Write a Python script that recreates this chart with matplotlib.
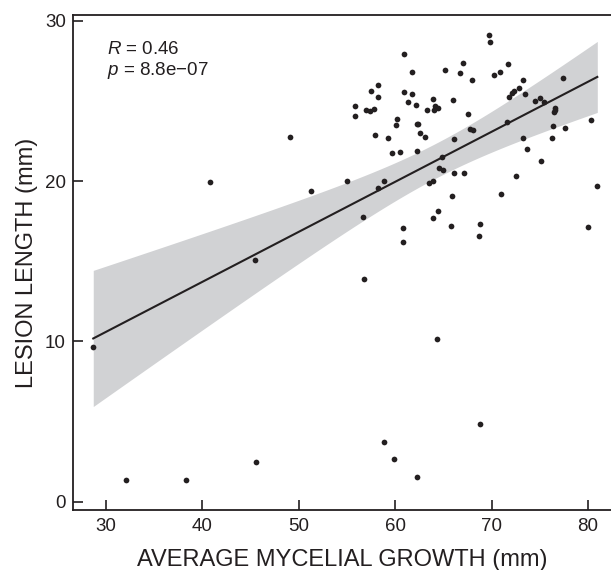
import numpy as np
from matplotlib import pyplot as plt

# average mycelial growth (mm) vs lesion length (mm)
growth = [28.71, 32.15, 38.33, 40.80, 45.48, 45.56, 49.08, 51.25, 54.98, 55.85,
          55.85, 56.64, 56.75, 56.95, 57.40, 57.47, 57.85, 57.95, 58.26, 58.26,
          58.26, 58.86, 58.85, 59.27, 59.68, 59.85, 60.06, 60.23, 60.54, 60.79,
          60.79, 60.96, 60.96, 61.37, 61.75, 61.75, 62.14, 62.27, 62.23, 62.41,
          62.27, 62.58, 63.07, 63.28, 63.49, 63.90, 63.96, 63.96, 64.17, 64.42,
          64.07, 64.38, 64.48, 64.83, 64.58, 65.00, 65.18, 65.80, 65.90, 65.97,
          66.08, 66.08, 66.76, 67.07, 67.15, 67.53, 67.80, 68.00, 68.05, 68.80,
          68.70, 68.76, 69.77, 69.87, 70.29, 70.88, 70.98, 71.57, 71.68, 71.78,
          72.15, 72.32, 72.57, 72.81, 73.29, 73.29, 73.50, 73.68, 74.47, 75.02,
          75.16, 75.47, 76.30, 76.40, 76.51, 76.55, 76.58, 77.41, 77.62, 79.97,
          80.31, 80.96]
lesion = [9.67, 1.32, 1.32, 19.95, 15.06, 2.48, 22.77, 19.40, 20.00, 24.70,
          24.04, 17.78, 13.91, 24.44, 24.38, 25.62, 24.52, 22.88, 26.01, 25.27,
          19.59, 3.71, 20.00, 22.67, 21.77, 2.65, 23.48, 23.85, 21.83, 17.05,
          16.20, 27.91, 25.58, 24.95, 26.81, 25.45, 24.75, 23.56, 1.53, 23.56,
          21.88, 22.98, 22.77, 24.45, 19.90, 17.72, 25.10, 20.00, 24.68, 24.54,
          24.44, 10.17, 18.16, 21.52, 20.84, 20.69, 26.91, 17.22, 19.07, 25.06,
          22.61, 20.52, 26.76, 27.37, 20.52, 24.17, 23.23, 26.29, 23.17, 17.30,
          16.56, 4.82, 29.11, 28.70, 26.62, 26.79, 19.22, 23.71, 27.29, 25.23,
          25.52, 25.60, 20.34, 25.83, 26.31, 22.69, 25.41, 22.02, 24.98, 25.17,
          21.23, 24.94, 22.71, 23.44, 24.33, 24.45, 24.58, 26.45, 23.31, 17.16,
          23.81, 19.67]

x_ticks = [30, 40, 50, 60, 70, 80]
y_ticks = [0, 10, 20, 30]
stats_text = ['$R$ = 0.46', '$p$ = 8.8e\u221207']

ink = '#231f20'
plt.rcParams['font.family'] = ['Liberation Sans', 'DejaVu Sans']
plt.rcParams['mathtext.fontset'] = 'custom'
plt.rcParams['mathtext.it'] = 'Liberation Sans:italic'
plt.rcParams['mathtext.rm'] = 'Liberation Sans'

x = np.array(growth)
y = np.array(lesion)
n = len(x)

# linear fit with 95% confidence band
b, a = np.polyfit(x, y, 1)
xs = np.linspace(x.min(), x.max(), 200)
ys = a + b * xs
resid = y - (a + b * x)
s = np.sqrt(np.sum(resid ** 2) / (n - 2))
sxx = np.sum((x - x.mean()) ** 2)
se = s * np.sqrt(1 / n + (xs - x.mean()) ** 2 / sxx)
t = 1.983

fig = plt.figure(figsize=(6.11, 5.70), dpi=100)
ax = fig.add_axes([0.119, 0.1053, 0.881, 0.8684])

ax.fill_between(xs, ys - t * se, ys + t * se, color='#d1d2d4', lw=0, zorder=1)
ax.plot(xs, ys, color=ink, lw=1.5, zorder=2)
ax.scatter(x, y, s=17, color=ink, lw=0, zorder=3)

ax.text(0.064, 0.931, stats_text[0], transform=ax.transAxes, fontsize=13.5,
        color=ink, va='center')
ax.text(0.064, 0.887, stats_text[1], transform=ax.transAxes, fontsize=13.5,
        color=ink, va='center')

ax.set_xlim(26.58, 82.38)
ax.set_ylim(-0.52, 30.36)
ax.set_xticks(x_ticks)
ax.set_yticks(y_ticks)
ax.tick_params(direction='in', length=7, width=1.2, colors=ink, labelsize=13.5, pad=5)
ax.tick_params(axis='x', pad=6)

for side in ['left', 'bottom', 'top']:
    ax.spines[side].set_color(ink)
    ax.spines[side].set_linewidth(1.3)
ax.spines['right'].set_visible(False)

ax.set_xlabel('AVERAGE MYCELIAL GROWTH (mm)', fontsize=17, color=ink, labelpad=10)
ax.set_ylabel('LESION LENGTH (mm)', fontsize=17, color=ink, labelpad=5)

plt.savefig('out.png', dpi=100)
